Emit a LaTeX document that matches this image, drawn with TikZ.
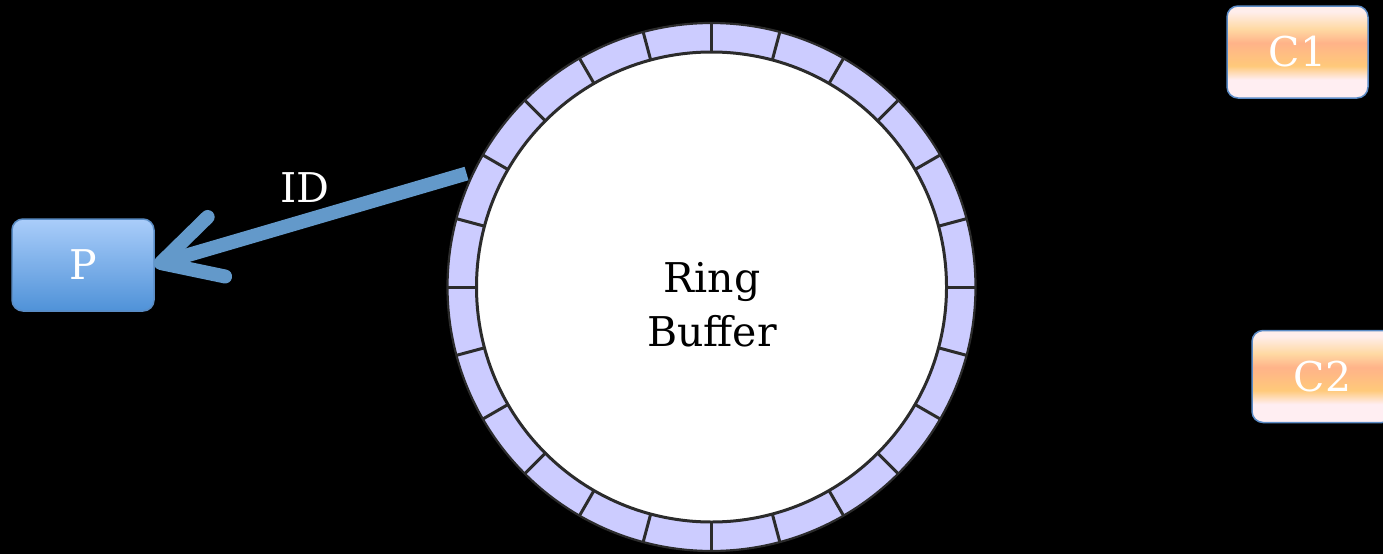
\documentclass[tikz,border=0pt]{standalone}
\usepackage{fontspec}
\setmainfont{DejaVu Serif}
\usetikzlibrary{arrows.meta}
\definecolor{lav}{HTML}{CCCCFF}
\definecolor{ringline}{HTML}{2B2B2B}
\definecolor{arrowblue}{HTML}{6399CA}
\definecolor{ptop}{HTML}{AACDFA}
\definecolor{pbot}{HTML}{4F92D8}
\definecolor{pborder}{HTML}{5A8CC4}
\definecolor{cpale}{HTML}{FFEEF2}
\definecolor{cyel}{HTML}{FFC97A}
\definecolor{csal}{HTML}{FFB389}
\definecolor{clor}{HTML}{FFD9A3}
\definecolor{ctop}{HTML}{FFEEEC}
\definecolor{cborder}{HTML}{5B8BC6}
\pgfdeclareverticalshading{peach}{100bp}{color(0bp)=(cpale); color(25bp)=(cpale); color(35bp)=(cpale); color(42.5bp)=(cyel); color(55bp)=(csal); color(62.5bp)=(clor); color(72bp)=(ctop); color(75bp)=(ctop); color(100bp)=(ctop)}
\tikzset{
  bigfont/.style={font=\fontsize{41}{54}\selectfont},
  pbox/.style={draw=pborder, line width=1.5pt, rounded corners=11pt, top color=ptop, bottom color=pbot,
    minimum width=142pt, minimum height=92pt, inner sep=0pt, outer sep=0pt, text=white, bigfont},
  cbox/.style={draw=cborder, line width=1.5pt, rounded corners=11pt, shading=peach,
    minimum width=141pt, minimum height=92pt, inner sep=0pt, outer sep=0pt, text=white, bigfont},
  ringnode/.style={circle, draw=ringline, line width=2.2pt, fill=lav, minimum size=528pt, inner sep=0pt, outer sep=0pt},
  innernode/.style={circle, draw=ringline, line width=3pt, fill=white, minimum size=470pt, inner sep=0pt, outer sep=0pt},
  ticksty/.style={draw=ringline, line width=3pt},
  idarrow/.style={draw=arrowblue, line width=14pt, -{Straight Barb[length=58pt, width=62pt, round]}}
}
\begin{document}
\begin{tikzpicture}[x=1pt, y=-1pt]
\fill[black] (0,0) rectangle (1383,554);
\useasboundingbox (0,0) rectangle (1383,554);
\node[ringnode] (ring) at (711.5,287) {};
\node[innernode] (inner) at (711.5,287) {};
\foreach \a in {0,15,...,345} \draw[ticksty] (inner.\a) -- (ring.\a);
\node[bigfont, align=center, text=black] (rbtext) at (712,305) {Ring\\Buffer};
\node[pbox] (P) at (83,265) {P};
\node[cbox] (C1) at (1297.5,52) {C1};
\node[cbox] (C2) at (1322.5,376.5) {C2};
\draw[idarrow, shorten <=8pt] (ring.154) -- (P.east);
\node[bigfont, text=white] (id) at (305,188) {ID};
\end{tikzpicture}
\end{document}
